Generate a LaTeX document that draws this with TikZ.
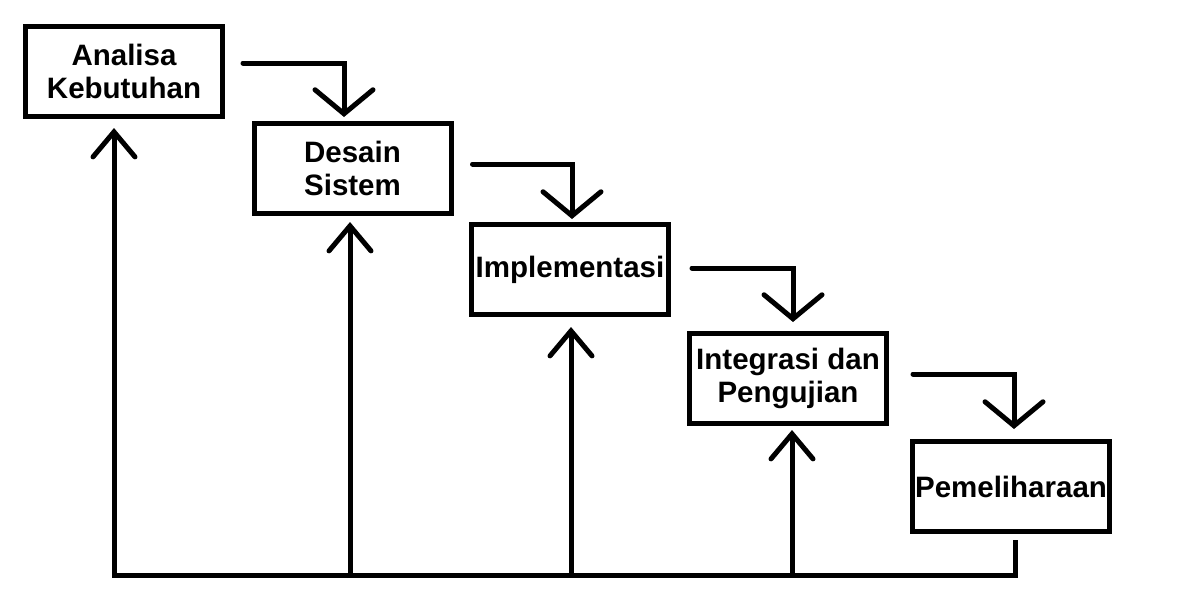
\documentclass[tikz,border=0pt]{standalone}
\usepackage{fontspec}
\setmainfont{Liberation Sans}
\usetikzlibrary{arrows.meta,calc}
\begin{document}
\begin{tikzpicture}[x=1pt,y=-1pt,
  box/.style={draw, line width=5pt, minimum width=197pt, minimum height=90pt,
    inner sep=0pt, align=center, font=\bfseries\fontsize{29.5}{33.5}\selectfont},
  downarrow/.style={line width=5pt, line cap=round,
    -{Straight Barb[length=24pt,width=58pt,line cap=round]}},
  uparrow/.style={line width=5pt,
    -{Straight Barb[length=25pt,width=42pt,line cap=round]}},
  baseline/.style={line width=5pt, line join=miter,
    {Straight Barb[length=25pt,width=42pt,line cap=round]}-}]
\useasboundingbox (0,0) rectangle (1198,614);
\fill[white] (0,0) rectangle (1198,614);

\node[box] (n1) at (124,71.5) {Analisa\\Kebutuhan};
\node[box] (n2) at (352.5,168.5) {Desain\\Sistem};
\node[box] (n3) at (570,269.5) {Implementasi};
\node[box] (n4) at (788,378.5) {Integrasi dan\\Pengujian};
\node[box] (n5) at (1011,486.5) {Pemeliharaan};

% down flows
\coordinate (s1) at ($(n1.east)+(18,-8.5)$);
\coordinate (t1) at ($(n2.north)+(-8.5,-4)$);
\coordinate (s2) at ($(n2.east)+(19,-4.5)$);
\coordinate (t2) at ($(n3.north)+(2,-3)$);
\coordinate (s3) at ($(n3.east)+(21,-1.5)$);
\coordinate (t3) at ($(n4.north)+(5,-9)$);
\coordinate (s4) at ($(n4.east)+(24,-4.5)$);
\coordinate (t4) at ($(n5.north)+(3,-10)$);
\draw[downarrow] (s1) -| (t1);
\draw[downarrow] (s2) -| (t2);
\draw[downarrow] (s3) -| (t3);
\draw[downarrow] (s4) -| (t4);

% feedback
\coordinate (base) at (0,575);
\coordinate (u1) at ($(n1.south)+(-10,9)$);
\coordinate (u2) at ($(n2.south)+(-2.5,6)$);
\coordinate (u3) at ($(n3.south)+(1,10)$);
\coordinate (u4) at ($(n4.south)+(4,4)$);
\coordinate (st) at ($(n5.south)+(4,6)$);
\draw[baseline] (u1) -- (u1 |- base) -- (st |- base) -- (st);
\draw[uparrow] (u2 |- base) -- (u2);
\draw[uparrow] (u3 |- base) -- (u3);
\draw[uparrow] (u4 |- base) -- (u4);
\end{tikzpicture}
\end{document}
